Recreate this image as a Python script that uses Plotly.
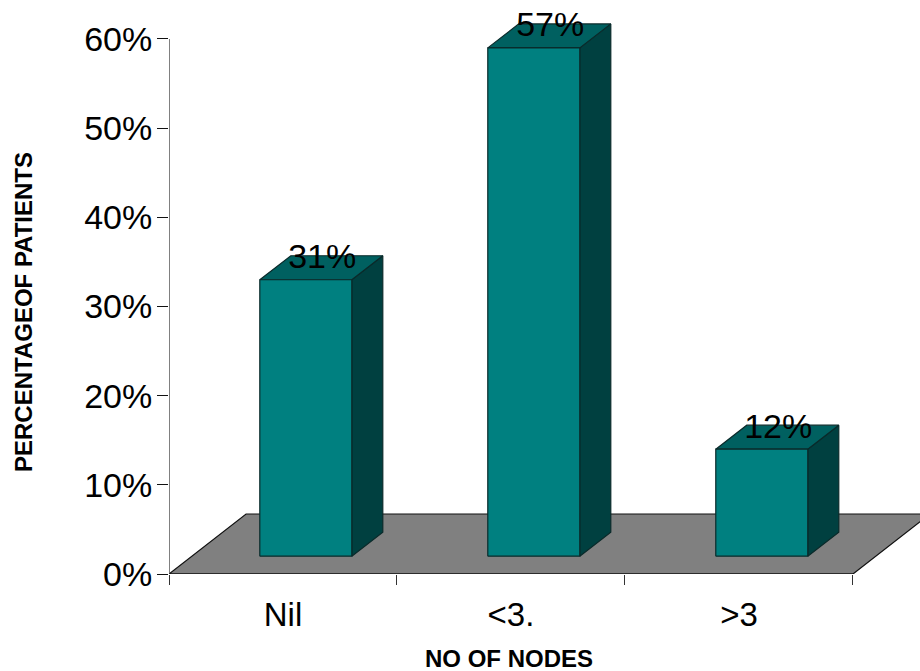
import plotly.graph_objects as go

# Chart content
categories = ["Nil", "<3.", ">3"]
percent_patients = [31, 57, 12]
percent_labels = ["31%", "57%", "12%"]
slot_centres = [0.5, 1.5, 2.5]
y_ticks = [0, 10, 20, 30, 40, 50, 60]
y_tick_labels = ["0%", "10%", "20%", "30%", "40%", "50%", "60%"]
slot_edges = [0, 1, 2, 3]

# Pseudo-3D geometry in axis units
FLOOR_DX, FLOOR_DY = 0.338, 6.73
BAR_DX, BAR_DY = 0.136, 2.69
BAR_BASE = 2.0
BAR_WIDTH = 0.4035
BAR_SHIFT = 0.1
LABEL_DX, LABEL_DY = 0.072, 2.24
X_MAX, Y_MAX = 3.294, 64.37

FRONT, TOP, SIDE, FLOOR = "#008080", "#006060", "#004040", "#808080"
EDGE = "#0a2a2a"
FONT = "Liberation Sans, Arial, sans-serif"


def face(xs, ys, fill, edge=EDGE, width=1.2):
    return go.Scatter(
        x=xs + xs[:1], y=ys + ys[:1], mode="lines", fill="toself",
        fillcolor=fill, line=dict(color=edge, width=width),
        hoverinfo="skip", showlegend=False, cliponaxis=False,
    )


def axis_line(xs, ys, colour, width):
    return go.Scatter(
        x=xs, y=ys, mode="lines", line=dict(color=colour, width=width),
        hoverinfo="skip", showlegend=False, cliponaxis=False,
    )


fig = go.Figure()

# Floor plane
fig.add_trace(face(
    [0, 3, 3 + FLOOR_DX, FLOOR_DX],
    [0, 0, FLOOR_DY, FLOOR_DY],
    FLOOR, edge="#111111", width=1.2,
))

# Axis lines stop at the last tick while the plot area runs on for the 3D depth
fig.add_trace(axis_line([0, 0], [y_ticks[0], y_ticks[-1]], "#606060", 1.6))
fig.add_trace(axis_line([slot_edges[0], slot_edges[-1]], [0, 0], "#111111", 1.2))

# Bars: front, top and side faces derived from the values
for centre, value in zip(slot_centres, percent_patients):
    left = centre + BAR_SHIFT - BAR_WIDTH / 2
    right = left + BAR_WIDTH
    bottom = BAR_BASE
    top = BAR_BASE + value
    fig.add_trace(face([right, right + BAR_DX, right + BAR_DX, right],
                       [bottom, bottom + BAR_DY, top + BAR_DY, top], SIDE))
    fig.add_trace(face([left, right, right + BAR_DX, left + BAR_DX],
                       [top, top, top + BAR_DY, top + BAR_DY], TOP))
    fig.add_trace(face([left, right, right, left],
                       [bottom, bottom, top, top], FRONT))

# Value labels over the top faces
fig.add_trace(go.Scatter(
    x=[c + BAR_SHIFT + LABEL_DX for c in slot_centres],
    y=[BAR_BASE + v + LABEL_DY for v in percent_patients],
    mode="text", text=percent_labels, textposition="middle center",
    textfont=dict(family=FONT, size=34, color="black"),
    hoverinfo="skip", showlegend=False, cliponaxis=False,
))

fig.update_layout(
    width=920, height=671, autosize=False,
    margin=dict(l=169, r=0, t=0, b=97),
    paper_bgcolor="white", plot_bgcolor="white",
    font=dict(family=FONT, color="black"),
    showlegend=False,
    xaxis=dict(
        range=[0, X_MAX], showgrid=False, zeroline=False, showline=False,
        tickmode="array", tickvals=slot_centres, ticktext=categories,
        ticks="outside", ticklen=0, ticklabelstandoff=11,
        tickfont=dict(family=FONT, size=33, color="black"),
        minor=dict(tickmode="array", tickvals=slot_edges, ticks="outside",
                   ticklen=10, tickcolor="#333333", tickwidth=1, showgrid=False),
    ),
    yaxis=dict(
        range=[0, Y_MAX], showgrid=False, zeroline=False, showline=False,
        tickmode="array", tickvals=y_ticks, ticktext=y_tick_labels,
        ticks="outside", ticklen=11, tickcolor="#111111", tickwidth=1,
        ticklabelstandoff=-2,
        tickfont=dict(family=FONT, size=34, color="black"),
    ),
    annotations=[
        dict(text="<b>NO OF NODES</b>", x=0.4527, xref="paper", y=-0.148, yref="paper",
             showarrow=False, xanchor="center", yanchor="middle",
             font=dict(family=FONT, size=24, color="black")),
        dict(text="<b>PERCENTAGEOF PATIENTS</b>", x=-0.1937, xref="paper", y=0.4556, yref="paper",
             textangle=-90, showarrow=False, xanchor="center", yanchor="middle",
             font=dict(family=FONT, size=24, color="black")),
    ],
)

fig.write_html("out.html")
